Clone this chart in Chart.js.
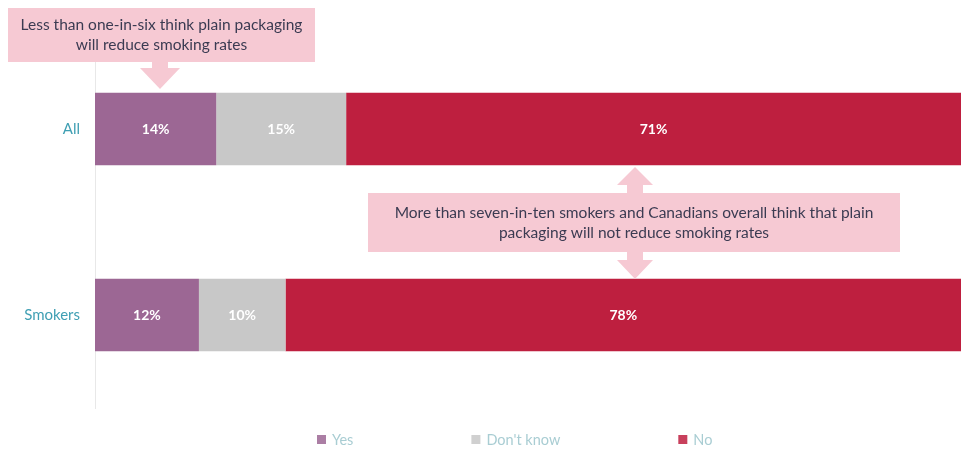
<!DOCTYPE html>
<html lang="en">
<head>
<meta charset="UTF-8">
<title>Plain packaging and smoking rates</title>
<style>
  body { margin: 0; background: #ffffff; }
  #wrap { width: 961px; height: 450px; }
</style>
</head>
<body>
<div id="wrap"><canvas id="chart" width="961" height="450"></canvas></div>
<script src="https://cdn.jsdelivr.net/npm/chart.js"></script>
<script>
// Survey answers, per cent of respondents
const groups = ["All", "Smokers"];
const yesValues = [14, 12];
const dontKnowValues = [15, 10];
const noValues = [71, 78];
const seriesNames = ["Yes", "Don't know", "No"];
const seriesColors = ["#9c6794", "#c8c8c8", "#be1f3f"];

const calloutTop = ["Less than one-in-six think plain packaging", "will reduce smoking rates"];
const calloutMiddle = ["More than seven-in-ten smokers and Canadians overall think that plain",
  "packaging will not reduce smoking rates"];

const FONT = "Lato, 'Open Sans', sans-serif";
const PINK = "#f6c9d3";

// white percentage in the middle of each segment
const barValueLabels = {
  id: "barValueLabels",
  afterDatasetsDraw(chart) {
    const ctx = chart.ctx;
    ctx.save();
    ctx.font = "bold 14px " + FONT;
    ctx.fillStyle = "#ffffff";
    ctx.textAlign = "center";
    ctx.textBaseline = "middle";
    chart.data.datasets.forEach((ds, i) => {
      chart.getDatasetMeta(i).data.forEach((bar, j) => {
        const p = bar.getProps(["x", "y", "base"], true);
        ctx.fillText(ds.data[j] + "%", (p.x + p.base) / 2, p.y);
      });
    });
    ctx.restore();
  }
};

function arrowHead(ctx, x, baseY, tipY, half) {
  ctx.beginPath();
  ctx.moveTo(x - half, baseY);
  ctx.lineTo(x + half, baseY);
  ctx.lineTo(x, tipY);
  ctx.closePath();
  ctx.fill();
}

function textBox(ctx, x, y, w, h, lines, lineGap) {
  ctx.fillStyle = PINK;
  ctx.fillRect(x, y, w, h);
  ctx.fillStyle = "#3b3b52";
  ctx.font = "15.5px " + FONT;
  ctx.textAlign = "center";
  ctx.textBaseline = "middle";
  const cy = y + h / 2 - (lines.length - 1) * lineGap / 2;
  lines.forEach((t, k) => ctx.fillText(t, x + w / 2, cy + k * lineGap));
}

// pink callouts with arrows
const callouts = {
  id: "callouts",
  afterDraw(chart) {
    const ctx = chart.ctx;
    ctx.save();
    // top box, arrow down onto the "Yes" segment
    textBox(ctx, 8, 8, 307, 54, calloutTop, 20);
    ctx.fillStyle = PINK;
    ctx.fillRect(152, 62, 16, 7);
    arrowHead(ctx, 160, 68, 89, 20);
    // middle box, arrows to both bars
    textBox(ctx, 368, 193, 532, 59, calloutMiddle, 20);
    ctx.fillStyle = PINK;
    ctx.fillRect(627, 184, 16, 9);
    arrowHead(ctx, 635, 185, 167, 18);
    ctx.fillRect(627, 252, 16, 9);
    arrowHead(ctx, 635, 260, 279, 18);
    ctx.restore();
  }
};

// spaced-out legend along the bottom
const bottomLegend = {
  id: "bottomLegend",
  afterDraw(chart) {
    const ctx = chart.ctx;
    ctx.save();
    ctx.font = "14.5px " + FONT;
    ctx.textBaseline = "middle";
    ctx.textAlign = "left";
    let x = 317;
    const y = 439;
    chart.data.datasets.forEach(ds => {
      ctx.fillStyle = ds.backgroundColor;
      ctx.globalAlpha = 0.85;
      ctx.fillRect(x, y - 4, 9, 9);
      ctx.globalAlpha = 1;
      ctx.fillStyle = "#a9cdd3";
      ctx.fillText(ds.label, x + 15, y + 1);
      x += 15 + ctx.measureText(ds.label).width + 118;
    });
    ctx.restore();
  }
};

const seriesValues = [yesValues, dontKnowValues, noValues];

new Chart(document.getElementById("chart"), {
  type: "bar",
  data: {
    labels: groups,
    datasets: seriesNames.map((name, i) => ({
      label: name,
      data: seriesValues[i],
      backgroundColor: seriesColors[i],
      borderWidth: 0,
      barPercentage: 0.39,
      categoryPercentage: 1
    }))
  },
  options: {
    indexAxis: "y",
    responsive: false,
    animation: false,
    layout: { padding: { top: 36, bottom: 42, left: 0, right: 0 } },
    plugins: {
      legend: { display: false },
      tooltip: { enabled: false }
    },
    scales: {
      x: { stacked: true, min: 0, max: 100, display: false },
      y: {
        stacked: true,
        grid: { display: false, drawTicks: false },
        border: { display: true, color: "#e8e8e8", width: 1 },
        ticks: { color: "#3f9fb3", padding: 15, font: { family: FONT, size: 15 } },
        afterFit(scale) { scale.width = 95; }
      }
    }
  },
  plugins: [barValueLabels, callouts, bottomLegend]
});
</script>
</body>
</html>
